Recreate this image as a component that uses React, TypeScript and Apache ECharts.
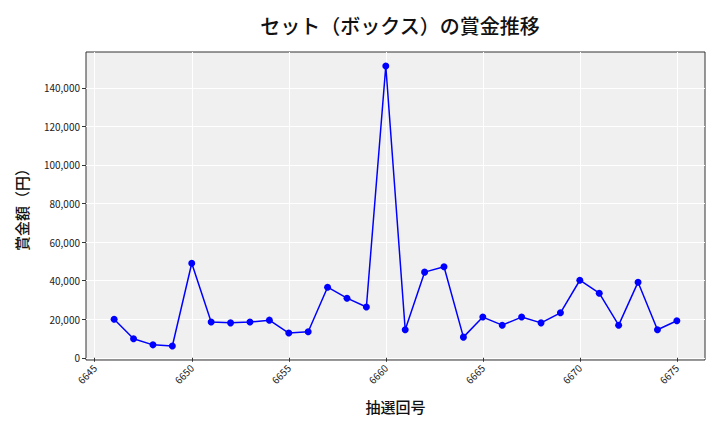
import React, { useEffect, useRef } from "react";
import * as echarts from "echarts";

const draws = [6646, 6647, 6648, 6649, 6650, 6651, 6652, 6653, 6654, 6655, 6656, 6657, 6658, 6659, 6660, 6661, 6662, 6663, 6664, 6665, 6666, 6667, 6668, 6669, 6670, 6671, 6672, 6673, 6674, 6675];
const prizes = [20000, 9900, 6700, 6100, 49000, 18500, 18100, 18500, 19500, 12800, 13500, 36600, 30900, 26300, 151300, 14500, 44400, 47200, 10700, 21100, 16900, 21100, 18100, 23300, 40200, 33500, 16900, 39200, 14500, 19200];
const xTicks = [6645, 6650, 6655, 6660, 6665, 6670, 6675];
const yTicks = [0, 20000, 40000, 60000, 80000, 100000, 120000, 140000];

const FONT = "'Noto Sans CJK JP', 'Noto Sans', sans-serif";

export default function App() {
  const ref = useRef<HTMLDivElement>(null);
  useEffect(() => {
    if (!ref.current) return;
    const chart = echarts.init(ref.current, null, { renderer: "svg" });
    const xMin = 6646, xMax = 6675;
    const xPad = (xMax - xMin) * 0.05;
    const yMinD = Math.min(...prizes), yMaxD = Math.max(...prizes);
    const yPad = (yMaxD - yMinD) * 0.05;
    chart.setOption({
      animation: false,
      title: {
        text: "セット（ボックス）の賞金推移",
        left: 395,
        textAlign: "center",
        top: 10,
        textStyle: { fontFamily: FONT, fontSize: 20, fontWeight: 500, color: "#111" },
      },
      grid: {
        left: 86,
        right: 15,
        top: 52,
        bottom: 72,
        show: true,
        backgroundColor: "#f0f0f0",
        borderColor: "#333",
        borderWidth: 1,
      },
      xAxis: {
        type: "value",
        min: xMin - xPad,
        max: xMax + xPad,
        name: "抽選回号",
        nameLocation: "middle",
        nameGap: 39,
        nameTextStyle: { fontFamily: FONT, fontSize: 15, fontWeight: 500, color: "#111" },
        axisLine: { show: false },
        axisTick: { show: true, customValues: xTicks, length: 4, lineStyle: { color: "#333" } },
        axisLabel: {
          customValues: xTicks,
          rotate: 45,
          fontFamily: FONT,
          fontSize: 10,
          color: "#222",
          margin: 6,
          formatter: (v: number) => String(v),
        },
        splitLine: { show: true, lineStyle: { color: "#ffffff", width: 1 } },
      },
      yAxis: {
        type: "value",
        min: yMinD - yPad,
        max: yMaxD + yPad,
        name: "賞金額（円）",
        nameLocation: "middle",
        nameGap: 57,
        nameRotate: 90,
        nameTextStyle: { fontFamily: FONT, fontSize: 15, fontWeight: 500, color: "#111" },
        axisLine: { show: false },
        axisTick: { show: true, customValues: yTicks, length: 4, lineStyle: { color: "#333" } },
        axisLabel: {
          customValues: yTicks,
          fontFamily: FONT,
          fontSize: 10,
          color: "#222",
          margin: 6,
          formatter: (v: number) => v.toLocaleString("en-US"),
        },
        splitLine: { show: true, lineStyle: { color: "#ffffff", width: 1 } },
      },
      series: [
        {
          type: "line",
          data: draws.map((d, i) => [d, prizes[i]]),
          symbol: "circle",
          symbolSize: 7,
          itemStyle: { color: "#0000ff" },
          lineStyle: { color: "#0000ff", width: 1.5 },
        },
      ],
    });
    return () => chart.dispose();
  }, []);
  return <div ref={ref} style={{ width: 720, height: 432, margin: -8 }} />;
}
